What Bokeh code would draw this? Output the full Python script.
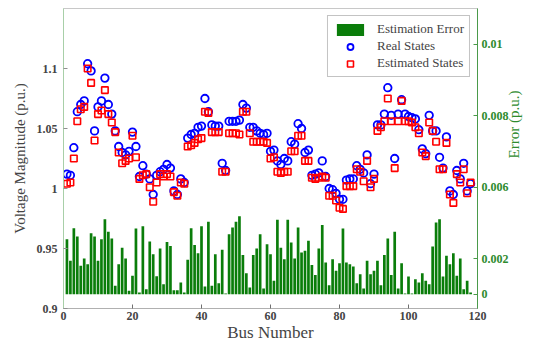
import math
from bokeh.plotting import figure
from bokeh.models import Range1d, LinearAxis, FixedTicker, Legend, LegendItem
from bokeh.embed import file_html
from bokeh.resources import INLINE

bus = list(range(1, 119))

real_states = [
    1.012, 1.011, 1.034, 1.064, 1.070, 1.073, 1.104, 1.098, 1.048, 1.068,
    1.073, 1.092, 1.070, 1.062, 1.048, 1.035, 1.030, 1.028, 1.031, 1.047,
    1.035, 1.010, 1.019, 1.012, 1.008, 0.995, 1.011, 1.014, 1.016, 1.020,
    1.017, 0.998, 0.995, 1.008, 1.005, 1.042, 1.045, 1.046, 1.051, 1.052,
    1.075, 1.064, 1.053, 1.052, 1.052, 1.021, 1.015, 1.056, 1.056, 1.056,
    1.057, 1.070, 1.067, 1.051, 1.051, 1.048, 1.046, 1.045, 1.046, 1.031,
    1.032, 1.023, 1.020, 1.025, 1.023, 1.039, 1.037, 1.054, 1.050, 1.030,
    1.032, 1.011, 1.012, 1.013, 1.023, 1.010, 1.000, 0.999, 0.996, 0.991,
    0.991, 1.007, 1.008, 1.008, 1.019, 1.016, 1.013, 1.028, 1.004, 1.012,
    1.053, 1.053, 1.062, 1.084, 1.061, 1.025, 1.062, 1.074, 1.062, 1.060,
    1.059, 1.058, 1.049, 1.033, 1.029, 1.061, 1.048, 1.048, 1.026, 1.017,
    1.043, 0.998, 0.995, 1.015, 1.008, 1.021, 0.998, 1.004,
]

estimated_states = [
    1.004, 1.005, 1.025, 1.056, 1.066, 1.068, 1.100, 1.088, 1.040, 1.062,
    1.065, 1.082, 1.062, 1.055, 1.047, 1.030, 1.021, 1.023, 1.025, 1.044,
    1.026, 1.008, 1.011, 1.012, 1.001, 0.989, 1.005, 1.012, 1.010, 1.012,
    1.010, 0.997, 0.994, 1.005, 1.004, 1.035, 1.036, 1.038, 1.041, 1.042,
    1.064, 1.063, 1.047, 1.047, 1.047, 1.014, 1.014, 1.046, 1.046, 1.046,
    1.045, 1.064, 1.064, 1.046, 1.039, 1.039, 1.039, 1.039, 1.038, 1.025,
    1.026, 1.014, 1.013, 1.014, 1.014, 1.031, 1.031, 1.044, 1.044, 1.023,
    1.023, 1.009, 1.008, 1.009, 1.010, 1.009, 0.994, 0.994, 0.990, 0.984,
    0.983, 1.002, 1.002, 1.002, 1.016, 1.014, 1.006, 1.023, 1.001, 1.008,
    1.048, 1.051, 1.056, 1.075, 1.056, 1.017, 1.056, 1.073, 1.056, 1.056,
    1.055, 1.051, 1.046, 1.030, 1.027, 1.055, 1.048, 1.039, 1.016, 1.016,
    1.038, 0.995, 0.988, 1.012, 1.005, 1.016, 0.996, 1.005,
]

estimation_error = [
    0.00308, 0.00187, 0.00370, 0.00323, 0.00159, 0.00200, 0.00168, 0.00342, 0.00323, 0.00187,
    0.00308, 0.00420, 0.00350, 0.00312, 0.00047, 0.00168, 0.00260, 0.00200, 0.00019, 0.00103,
    0.00368, 0.00010, 0.00380, 0.00028, 0.00295, 0.00224, 0.00100, 0.00256, 0.00056, 0.00293,
    0.00270, 0.00022, 0.00022, 0.00065, 0.00010, 0.00193, 0.00370, 0.00275, 0.00230, 0.00380,
    0.00043, 0.00406, 0.00047, 0.00224, 0.00062, 0.00249, 0.00004, 0.00336, 0.00374, 0.00406,
    0.00436, 0.00219, 0.00118, 0.00037, 0.00220, 0.00256, 0.00336, 0.00032, 0.00280, 0.00224,
    0.00075, 0.00417, 0.00260, 0.00196, 0.00417, 0.00290, 0.00200, 0.00374, 0.00234, 0.00243,
    0.00300, 0.00163, 0.00107, 0.00256, 0.00387, 0.00178, 0.00050, 0.00196, 0.00131, 0.00174,
    0.00368, 0.00178, 0.00168, 0.00155, 0.00062, 0.00112, 0.00032, 0.00187, 0.00112, 0.00131,
    0.00187, 0.00050, 0.00219, 0.00312, 0.00107, 0.00350, 0.00032, 0.00174, 0.00004, 0.00099,
    0.00004, 0.00084, 0.00065, 0.00118, 0.00075, 0.00056, 0.00267, 0.00402, 0.00420, 0.00099,
    0.00215, 0.00168, 0.00230, 0.00103, 0.00200, 0.00028, 0.00075, 0.00010,
]

x_ticks = [0, 20, 40, 60, 80, 100, 120]
v_ticks = [0.9, 0.95, 1.0, 1.05, 1.1]
v_labels = ["0.9", "0.95", "1", "1.05", "1.1"]
err_ticks = [0.0, 0.002, 0.006, 0.010, 0.014]
err_labels = ["0", "0.002", "0.006", "0.008", "0.01"]

SERIF = "'Liberation Serif', 'Times New Roman', serif"
GREEN = "#0a7d0a"
AXGREEN = "#2e8b2e"

p = figure(width=532, height=344, x_range=Range1d(0, 120), y_range=Range1d(0.9, 1.15),
           output_backend="svg", toolbar_location=None,
           min_border_left=63, min_border_top=8, min_border_right=50, min_border_bottom=36)
p.extra_y_ranges = {"err": Range1d(-0.0008, 0.016)}
p.grid.visible = False
p.outline_line_color = "#c8c8c8"
p.background_fill_color = "white"

bars = p.vbar(x=bus, top=estimation_error, bottom=0, width=0.78, y_range_name="err",
              fill_color=GREEN, line_color=None)
circ = p.scatter(bus, real_states, marker="circle", size=7.5, fill_color=None,
                 line_color="#0000ff", line_width=1.8)
sq = p.scatter(bus, estimated_states, marker="square", size=6.5, fill_color=None,
               line_color="#ff0000", line_width=1.6)

# bottom axis
xa = p.xaxis[0]
xa.ticker = FixedTicker(ticks=x_ticks)
xa.axis_label = "Bus Number"
xa.axis_label_text_font = SERIF
xa.axis_label_text_font_style = "normal"
xa.axis_label_text_font_size = "17px"
xa.axis_label_standoff = 0
xa.major_label_text_font = SERIF
xa.major_label_text_font_style = "bold"
xa.major_label_text_font_size = "12px"
xa.major_label_standoff = 3
xa.major_tick_in = 4
xa.major_tick_out = 0
xa.minor_tick_line_color = None
xa.axis_line_color = "#b0b0b0"
xa.major_tick_line_color = "#707070"

# left axis
ya = p.yaxis[0]
ya.ticker = FixedTicker(ticks=v_ticks)
ya.major_label_overrides = dict(zip(v_ticks, v_labels))
ya.axis_label = "Voltage Magnitude (p.u.)"
ya.axis_label_text_font = SERIF
ya.axis_label_text_font_style = "normal"
ya.axis_label_text_font_size = "15px"
ya.axis_label_standoff = 6
ya.major_label_text_font = SERIF
ya.major_label_text_font_style = "bold"
ya.major_label_text_font_size = "12px"
ya.major_label_standoff = 6
ya.major_tick_in = 4
ya.major_tick_out = 0
ya.minor_tick_line_color = None
ya.axis_line_color = "#a8cfa8"
ya.major_tick_line_color = "#909090"

# right axis
ra = LinearAxis(y_range_name="err", ticker=FixedTicker(ticks=err_ticks),
                major_label_overrides=dict(zip(err_ticks, err_labels)),
                axis_label="Error (p.u.)")
ra.axis_label_text_font = SERIF
ra.axis_label_text_font_style = "normal"
ra.axis_label_text_font_size = "15px"
ra.axis_label_text_color = AXGREEN
ra.axis_label_standoff = 2
ra.axis_label_orientation = math.pi / 2
ra.major_label_text_font = SERIF
ra.major_label_text_font_style = "bold"
ra.major_label_text_font_size = "12px"
ra.major_label_text_color = AXGREEN
ra.major_label_standoff = 4
ra.major_tick_in = 4
ra.major_tick_out = 0
ra.minor_tick_line_color = None
ra.axis_line_color = "#4a9a4a"
ra.major_tick_line_color = "#4a9a4a"
p.add_layout(ra, "right")

legend = Legend(items=[
    LegendItem(label="Estimation Error", renderers=[bars]),
    LegendItem(label="Real States", renderers=[circ]),
    LegendItem(label="Estimated States", renderers=[sq]),
])
legend.location = "top_right"
legend.margin = 7
legend.padding = 5
legend.spacing = 1
legend.glyph_width = 34
legend.glyph_height = 15
legend.label_text_font = SERIF
legend.label_text_font_size = "13px"
legend.label_standoff = 10
legend.border_line_color = "#888888"
legend.border_line_width = 1
legend.background_fill_alpha = 1.0
p.add_layout(legend)

open("out.html", "w").write(file_html(p, INLINE))
